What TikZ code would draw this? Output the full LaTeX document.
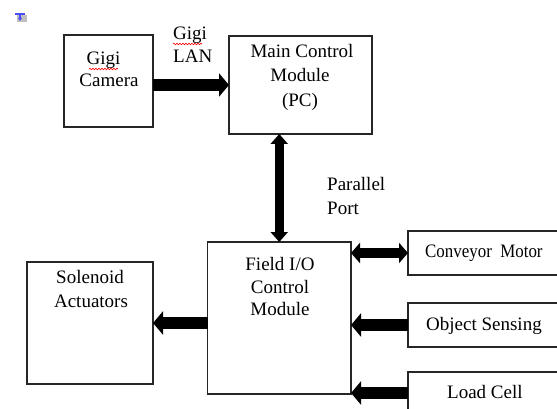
\documentclass[tikz,border=0pt]{standalone}
\usepackage{fontspec}
\usepackage{graphicx}
\setmainfont{Liberation Serif}
\usetikzlibrary{arrows.meta,decorations.pathmorphing}
\begin{document}
\begin{tikzpicture}[x=1pt,y=-1pt,
  box/.style={draw=black!85,line width=1.1pt,rectangle,inner sep=0pt,outer sep=0pt},
  lbl/.style={anchor=base,inner sep=0pt,font=\fontsize{19}{23}\selectfont},
  fat/.style={line width=12pt,-{Triangle[length=10pt,width=23pt]}},
  fatboth/.style={line width=10pt,{Triangle[length=9pt,width=20pt]}-{Triangle[length=9pt,width=20pt]}},
  thinboth/.style={line width=9pt,{Triangle[length=10pt,width=17pt]}-{Triangle[length=10pt,width=17pt]}},
  squig/.style={red,line width=0.6pt,decorate,decoration={snake,segment length=3pt,amplitude=0.8pt}}]
\useasboundingbox (0,0) rectangle (557,409);
% small icon
\fill[black!25] (17,15) rectangle (27,22);
\draw[blue!70,line width=1.6pt] (14.5,14) -- (25,14);
\draw[blue!70,line width=1.4pt] (20,14) -- (20,19);
\fill[blue!70] (18,18) -- (22,18) -- (20,21) -- cycle;
% boxes
\node[box,minimum width=89pt,minimum height=92pt] (cam) at (108.5,81) {};
\node[box,minimum width=143pt,minimum height=98pt] (main) at (300.5,85) {};
\node[box,minimum width=143.5pt,minimum height=152pt] (field) at (279.25,318) {};
\node[box,minimum width=126pt,minimum height=122pt] (sol) at (90,323) {};
\node[box,minimum width=154pt,minimum height=44pt] (conv) at (485,253) {};
\node[box,minimum width=154pt,minimum height=44pt] (obj) at (485,325) {};
\node[box,minimum width=154pt,minimum height=42pt] (load) at (485,393) {};
% texts
\node[lbl] (t1) at (103.5,65) {Gigi};
\node[lbl] (t2) at (109,87) {Camera};
\draw[squig] (89,69) -- (118,69);
\node[lbl,anchor=base west] (t3) at (173,40) {Gigi};
\node[lbl,anchor=base west] (t4) at (173,63) {LAN};
\draw[squig] (173,44) -- (202,44);
\node[lbl] (t5) at (302,58) {Main Control};
\node[lbl] (t6) at (300,82) {Module};
\node[lbl] (t7) at (300,107) {(PC)};
\node[lbl,anchor=base west] (t8) at (327,190) {Parallel};
\node[lbl,anchor=base west] (t9) at (327,214) {Port};
\node[lbl] (t10) at (280,270) {Field I/O};
\node[lbl] (t11) at (280,293) {Control};
\node[lbl] (t12) at (280,315) {Module};
\node[lbl] (t13) at (90,283) {Solenoid};
\node[lbl] (t14) at (91,307) {Actuators};
\node[lbl,anchor=base west] (t15) at (425,257) {\scalebox{0.89}[1]{Conveyor\ \ Motor}};
\node[lbl,anchor=base west] (t16) at (426,330) {Object Sensing};
\node[lbl,anchor=base west] (t17) at (447,398) {Load Cell};
% connectors
\draw[fat] (cam.east |- main.west) -- (main.west);
\draw[thinboth] (main.south -| field.north) -- (field.north);
\draw[fatboth] (field.east |- conv.west) -- (conv.west);
\draw[fat] (obj.west) -- (field.east |- obj.west);
\draw[fat] (load.west) -- (field.east |- load.west);
\draw[fat] (field.west |- sol.east) -- (sol.east);
\end{tikzpicture}
\end{document}
